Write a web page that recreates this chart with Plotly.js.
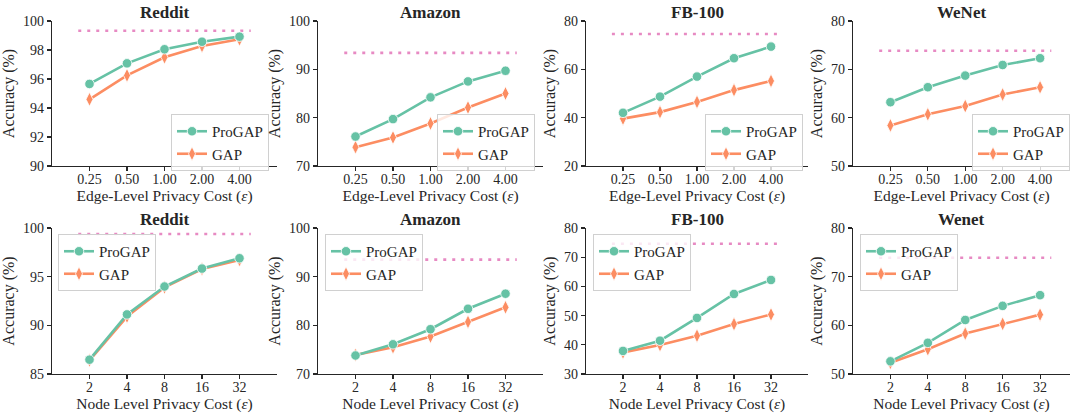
<!DOCTYPE html>
<html>
<head>
<meta charset="utf-8">
<script src="https://cdn.plot.ly/plotly-3.0.1.min.js"></script>
<style>html,body{margin:0;padding:0;background:#fff;}#chart{width:1070px;height:413px;}</style>
</head>
<body>
<div id="chart"></div>
<script>
// ---------- data ----------
const edgeTicks = ['0.25', '0.50', '1.00', '2.00', '4.00'];
const nodeTicks = ['2', '4', '8', '16', '32'];
const edgeTitles = ['Reddit', 'Amazon', 'FB-100', 'WeNet'];
const nodeTitles = ['Reddit', 'Amazon', 'FB-100', 'Wenet'];
const seriesNames = ['ProGAP', 'GAP'];

// edge-level
const edgeRedditProGAP = [95.66, 97.08, 98.05, 98.57, 98.92];
const edgeRedditGAP    = [94.60, 96.25, 97.50, 98.28, 98.74];
const edgeAmazonProGAP = [76.1, 79.7, 84.2, 87.5, 89.7];
const edgeAmazonGAP    = [73.9, 75.9, 78.8, 82.1, 85.0];
const edgeFBProGAP     = [42.0, 48.7, 57.0, 64.6, 69.4];
const edgeFBGAP        = [39.6, 42.3, 46.5, 51.4, 55.2];
const edgeWeNetProGAP  = [63.2, 66.3, 68.7, 70.9, 72.3];
const edgeWeNetGAP     = [58.4, 60.7, 62.4, 64.8, 66.3];
const edgeBaseline     = [99.33, 93.4, 74.6, 73.85];

// node-level
const nodeRedditProGAP = [86.47, 91.12, 93.99, 95.83, 96.89];
const nodeRedditGAP    = [86.40, 90.90, 93.90, 95.78, 96.72];
const nodeAmazonProGAP = [73.8, 76.1, 79.2, 83.4, 86.5];
const nodeAmazonGAP    = [73.9, 75.5, 77.7, 80.7, 83.7];
const nodeFBProGAP     = [37.9, 41.4, 49.2, 57.4, 62.2];
const nodeFBGAP        = [37.4, 39.9, 43.1, 47.1, 50.4];
const nodeWenetProGAP  = [52.6, 56.4, 61.1, 64.0, 66.2];
const nodeWenetGAP     = [52.3, 55.1, 58.3, 60.3, 62.2];
const nodeBaseline     = [99.38, 93.5, 74.6, 73.9];

const yRanges = [[90, 100], [70, 100], [20, 80], [50, 80], [85, 100], [70, 100], [30, 80], [50, 80]];
const yDticks = [2, 10, 20, 10, 5, 10, 10, 10];

// ---------- style ----------
const FONT = 'Liberation Serif, Times New Roman, serif';
const INK = '#262626';
const GREEN = '#66c2a5', ORANGE = '#fc8d62', PINK = '#e78ac3';
const W = 1070, H = 413;
const xPix = [[52, 277], [318, 543], [586, 808], [853, 1070]];
const rowPix = [[21, 166], [228, 374]];
const titleY = [13, 219];
const legendPix = [[171, 114], [437, 114], [705, 114], [972, 114], [58, 234], [325, 234], [593, 234], [860, 234]];

const panels = [
  {ticks: edgeTicks, title: edgeTitles[0], pro: edgeRedditProGAP, gap: edgeRedditGAP, base: edgeBaseline[0], xt: 'Edge-Level Privacy Cost (<i>ε</i>)'},
  {ticks: edgeTicks, title: edgeTitles[1], pro: edgeAmazonProGAP, gap: edgeAmazonGAP, base: edgeBaseline[1], xt: 'Edge-Level Privacy Cost (<i>ε</i>)'},
  {ticks: edgeTicks, title: edgeTitles[2], pro: edgeFBProGAP, gap: edgeFBGAP, base: edgeBaseline[2], xt: 'Edge-Level Privacy Cost (<i>ε</i>)'},
  {ticks: edgeTicks, title: edgeTitles[3], pro: edgeWeNetProGAP, gap: edgeWeNetGAP, base: edgeBaseline[3], xt: 'Edge-Level Privacy Cost (<i>ε</i>)'},
  {ticks: nodeTicks, title: nodeTitles[0], pro: nodeRedditProGAP, gap: nodeRedditGAP, base: nodeBaseline[0], xt: 'Node Level Privacy Cost (<i>ε</i>)'},
  {ticks: nodeTicks, title: nodeTitles[1], pro: nodeAmazonProGAP, gap: nodeAmazonGAP, base: nodeBaseline[1], xt: 'Node Level Privacy Cost (<i>ε</i>)'},
  {ticks: nodeTicks, title: nodeTitles[2], pro: nodeFBProGAP, gap: nodeFBGAP, base: nodeBaseline[2], xt: 'Node Level Privacy Cost (<i>ε</i>)'},
  {ticks: nodeTicks, title: nodeTitles[3], pro: nodeWenetProGAP, gap: nodeWenetGAP, base: nodeBaseline[3], xt: 'Node Level Privacy Cost (<i>ε</i>)'}
];

const traces = [];
const layout = {
  width: W, height: H,
  margin: {l: 0, r: 0, t: 0, b: 0},
  paper_bgcolor: '#fff', plot_bgcolor: '#fff',
  font: {family: FONT, color: INK, size: 14},
  annotations: [],
  shapes: []
};

panels.forEach((p, i) => {
  const n = i + 1;
  const sfx = n === 1 ? '' : String(n);
  const xa = 'x' + sfx, ya = 'y' + sfx;
  const lg = 'legend' + sfx;
  const col = i % 4, row = Math.floor(i / 4);
  const xs = p.ticks.map((_, k) => k);

  // baseline (dotted reference line)
  traces.push({
    x: [-0.3, xs.length - 1 + 0.3], y: [p.base, p.base],
    xaxis: xa, yaxis: ya, mode: 'lines', showlegend: false, hoverinfo: 'skip',
    line: {color: PINK, width: 2.6, dash: '3px,6px'}
  });
  // GAP drawn first so ProGAP is on top
  traces.push({
    x: xs, y: p.gap, name: seriesNames[1], xaxis: xa, yaxis: ya, legend: lg, legendrank: 2,
    mode: 'lines+markers',
    line: {color: ORANGE, width: 2.6},
    marker: {symbol: 'diamond-tall', size: 10, color: ORANGE, line: {color: '#fff', width: 0.8}}
  });
  traces.push({
    x: xs, y: p.pro, name: seriesNames[0], xaxis: xa, yaxis: ya, legend: lg, legendrank: 1,
    mode: 'lines+markers',
    line: {color: GREEN, width: 2.6},
    marker: {symbol: 'circle', size: 9.5, color: GREEN, line: {color: '#fff', width: 0.8}}
  });

  const xp = xPix[col], yp = rowPix[row];
  const xRangeEnd = col === 3 ? 4.8 : 5;
  layout['xaxis' + sfx] = {
    domain: [xp[0] / W, xp[1] / W],
    anchor: ya,
    range: [-1, xRangeEnd],
    tickmode: 'array', tickvals: xs, ticktext: p.ticks,
    showline: true, linecolor: INK, linewidth: 1.1,
    ticks: 'outside', ticklen: 4, tickcolor: INK, tickwidth: 1.1,
    ticklabelstandoff: -4,
    showgrid: false, zeroline: false,
    tickfont: {family: FONT, size: 14, color: INK},
    title: {text: p.xt, font: {family: FONT, size: 15.5, color: INK}, standoff: 0}
  };
  layout['yaxis' + sfx] = {
    domain: [1 - yp[1] / H, 1 - yp[0] / H],
    anchor: xa,
    range: yRanges[i], dtick: yDticks[i], tick0: 0,
    showline: true, linecolor: INK, linewidth: 1.1,
    ticks: 'outside', ticklen: 4, tickcolor: INK, tickwidth: 1.1,
    showgrid: false, zeroline: false,
    tickfont: {family: FONT, size: 14, color: INK},
    title: {text: 'Accuracy (%)', font: {family: FONT, size: 16, color: INK}, standoff: 4}
  };
  layout[lg] = {
    x: legendPix[i][0] / W, y: 1 - legendPix[i][1] / H,
    xanchor: 'left', yanchor: 'top', xref: 'paper', yref: 'paper',
    bgcolor: 'rgba(255,255,255,0.8)', bordercolor: '#d0d0d0', borderwidth: 1,
    font: {family: FONT, size: 15, color: INK},
    itemwidth: 30, tracegroupgap: 0
  };
  layout.annotations.push({
    text: '<b>' + p.title + '</b>',
    x: (xp[0] + xp[1]) / 2 / W, y: 1 - titleY[row] / H,
    xref: 'paper', yref: 'paper', xanchor: 'center', yanchor: 'middle',
    showarrow: false, font: {family: FONT, size: 17, color: INK}
  });
});

Plotly.newPlot('chart', traces, layout, {displayModeBar: false, staticPlot: true});
</script>
</body>
</html>
